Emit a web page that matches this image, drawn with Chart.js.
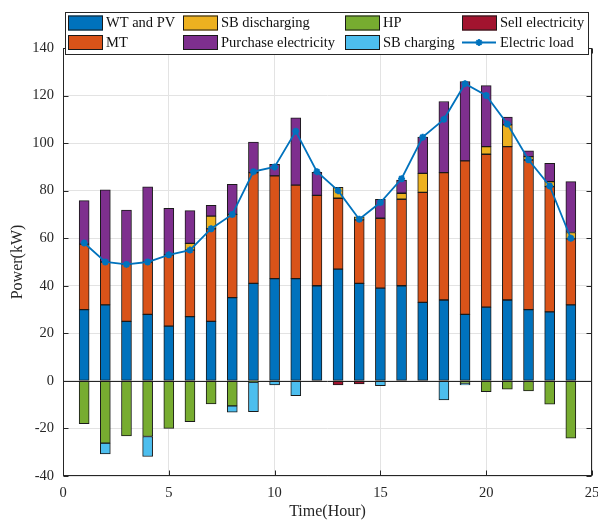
<!DOCTYPE html>
<html>
<head>
<meta charset="utf-8">
<script src="https://cdn.jsdelivr.net/npm/chart.js@4.4.0/dist/chart.umd.min.js"></script>
<style>
  html, body { margin: 0; padding: 0; background: #fff; }
  #wrap { position: relative; width: 598px; height: 525px; }
</style>
</head>
<body>
<div id="wrap"><canvas id="powerChart"></canvas></div>
<script>
// hours 1..24
const hours = [1, 2, 3, 4, 5, 6, 7, 8, 9, 10, 11, 12, 13, 14, 15, 16, 17, 18, 19, 20, 21, 22, 23, 24];

// supply side (positive)
const wtPv = [30, 32, 25, 28, 23, 27, 25, 35, 41, 43, 43, 40, 47, 41, 39, 40, 33, 34, 28, 31, 34, 30, 29, 32];
const mt = [27.5, 18, 24, 22, 30, 28, 39, 35, 46.6, 43.2, 39.3, 38, 29.8, 26.7, 29.4, 36.4, 46.3, 53.6, 64.5, 64.3, 64.5, 62.9, 52.7, 27.7];
const sbDischarging = [null, null, null, null, null, 2.8, 5.3, null, null, null, null, null, 4.6, 1.3, null, 2.5, 8, null, null, 3.2, 9.2, 1.4, 2.1, 2.7];
const purchase = [18.3, 30.3, 22.8, 31.6, 19.6, 13.8, 4.5, 12.7, 12.8, 4.9, 28.3, 9.7, null, null, 8, 5.6, 15.2, 29.9, 33.4, 25.7, 3.2, 2.5, 7.7, 21.4];

// consumption side (negative)
const hp = [-18, -26.2, -23.1, -23.4, -20, -17.1, -9.7, -10.5, -0.5, null, null, null, null, null, null, null, null, null, -1, -4.5, -3.5, -4.2, -9.8, -24.1];
const sbCharging = [null, -4.5, null, -8.4, null, null, null, -2.7, -12.4, -1.7, -6.2, null, null, null, -2, null, null, -8, -0.7, null, null, null, null, null];
const sellElec = [null, null, null, null, null, null, null, null, null, null, null, null, -1.7, -1.3, null, null, null, null, null, null, null, null, null, null];

const electricLoad = [58, 50, 49, 50, 53, 55, 64, 70, 88, 90, 105, 88, 80, 68, 75, 85, 102.5, 110, 125, 120, 108, 93, 82, 60];

const xTicks = [0, 5, 10, 15, 20, 25];
const yTicks = [-40, -20, 0, 20, 40, 60, 80, 100, 120, 140];

// legend is 2 rows x 4 columns like the original figure
const legendRows = [
  ['WT and PV', 'SB discharging', 'HP', 'Sell electricity'],
  ['MT', 'Purchase electricity', 'SB charging', 'Electric load'],
];

const serif = '"Liberation Serif", "Times New Roman", serif';

function pts(arr) {
  return hours.map((h, i) => ({ x: h, y: arr[i] }));
}

function barSet(label, arr, color) {
  return {
    type: 'bar',
    label: label,
    data: pts(arr),
    backgroundColor: color,
    borderColor: '#1a1a1a',
    borderWidth: 1,
    borderSkipped: false,
    barThickness: 10,
    stack: 'power',
  };
}

const datasets = [
  barSet('WT and PV', wtPv, '#0072BD'),
  barSet('MT', mt, '#D95319'),
  barSet('SB discharging', sbDischarging, '#EDB120'),
  barSet('Purchase electricity', purchase, '#7E2F8E'),
  barSet('HP', hp, '#77AC30'),
  barSet('SB charging', sbCharging, '#4DBEEE'),
  barSet('Sell electricity', sellElec, '#A2142F'),
  {
    type: 'line',
    label: 'Electric load',
    data: pts(electricLoad),
    borderColor: '#0072BD',
    backgroundColor: '#0072BD',
    borderWidth: 1.8,
    tension: 0,
    pointStyle: 'star',
    pointRadius: 3.5,
    pointBorderWidth: 2,
    pointBorderColor: '#0072BD',
    stack: 'load',
    order: -1,
  },
];

const frame = {
  id: 'frame',
  beforeDatasetsDraw(chart) {
    const { ctx, chartArea: a, scales: { y } } = chart;
    const y0 = Math.round(y.getPixelForValue(0)) + 0.5;
    ctx.save();
    ctx.strokeStyle = '#262626';
    ctx.lineWidth = 1;
    ctx.beginPath();
    ctx.moveTo(a.left, y0);
    ctx.lineTo(a.right, y0);
    ctx.stroke();
    ctx.restore();
  },
  afterDraw(chart) {
    const { ctx, chartArea: a, scales: { x, y } } = chart;
    ctx.save();
    ctx.strokeStyle = '#262626';
    ctx.lineWidth = 1;
    const L = Math.round(a.left) + 0.5, R = Math.round(a.right) - 0.5;
    const T = Math.round(a.top) + 0.5, B = Math.round(a.bottom) - 0.5;
    ctx.strokeRect(L, T, R - L, B - T);
    ctx.beginPath();
    yTicks.forEach(v => {
      const p = Math.round(y.getPixelForValue(v)) + 0.5;
      ctx.moveTo(L, p); ctx.lineTo(L + 5, p);
      ctx.moveTo(R, p); ctx.lineTo(R - 5, p);
    });
    xTicks.forEach(v => {
      const p = Math.round(x.getPixelForValue(v)) + 0.5;
      ctx.moveTo(p, B); ctx.lineTo(p, B - 5);
      ctx.moveTo(p, T); ctx.lineTo(p, T + 5);
    });
    ctx.stroke();

    // legend box
    const box = { l: 65.5, t: 12.5, r: 588.5, b: 54.5 };
    ctx.fillStyle = '#fff';
    ctx.fillRect(box.l, box.t, box.r - box.l, box.b - box.t);
    ctx.strokeStyle = '#262626';
    ctx.strokeRect(box.l, box.t, box.r - box.l, box.b - box.t);

    const colX = [68, 183, 345, 462];
    const rowY = [23, 42.5];
    ctx.font = '14.5px ' + serif;
    ctx.textBaseline = 'middle';
    ctx.textAlign = 'left';
    legendRows.forEach((row, ri) => {
      row.forEach((label, ci) => {
        const ds = chart.data.datasets.find(d => d.label === label);
        const sx = colX[ci], cy = rowY[ri];
        if (ds.type === 'line') {
          ctx.strokeStyle = ds.borderColor;
          ctx.lineWidth = 1.8;
          ctx.beginPath();
          ctx.moveTo(sx, cy); ctx.lineTo(sx + 34, cy);
          ctx.stroke();
          Chart.helpers.drawPoint(ctx, { pointStyle: 'star', radius: 3.5, borderWidth: 2 }, sx + 17, cy);
        } else {
          ctx.fillStyle = ds.backgroundColor;
          ctx.fillRect(sx, cy - 7.5, 35, 15);
          ctx.strokeStyle = '#1a1a1a';
          ctx.lineWidth = 1;
          ctx.strokeRect(sx + 0.5, cy - 7, 34, 14);
        }
        ctx.fillStyle = '#111';
        ctx.fillText(label, sx + 38, cy + 0.5);
      });
    });
    ctx.restore();
  },
};

const ctx = document.getElementById('powerChart').getContext('2d');
const powerChart = new Chart(ctx, {
  data: { datasets: datasets },
  plugins: [frame],
  options: {
    responsive: true,
    maintainAspectRatio: false,
    animation: false,
    layout: { padding: { top: 48, right: 6, left: 0, bottom: 0 } },
    plugins: {
      legend: { display: false },
      tooltip: { enabled: false },
    },
    scales: {
      x: {
        type: 'linear',
        min: 0,
        max: 25,
        offset: false,
        afterBuildTicks: s => { s.ticks = xTicks.map(v => ({ value: v })); },
        afterFit: s => { s.height = 49; s.paddingLeft = 0; s.paddingRight = 0; },
        grid: { color: '#e3e3e3', drawTicks: false, offset: false },
        border: { display: false },
        ticks: { color: '#262626', padding: 8, maxRotation: 0, font: { family: serif, size: 14.5 } },
        title: {
          display: true,
          text: 'Time(Hour)',
          color: '#262626',
          font: { family: serif, size: 16 },
          padding: { top: 2, bottom: 4 },
        },
      },
      y: {
        stacked: true,
        min: -40,
        max: 140,
        afterBuildTicks: s => { s.ticks = yTicks.map(v => ({ value: v })); },
        afterFit: s => { s.width = 63; },
        grid: { color: '#e3e3e3', drawTicks: false },
        border: { display: false },
        ticks: { color: '#262626', padding: 9, font: { family: serif, size: 14.5 } },
        title: {
          display: true,
          text: 'Power(kW)',
          color: '#262626',
          font: { family: serif, size: 16 },
          padding: { top: 8, bottom: 0 },
        },
      },
    },
  },
});
</script>
</body>
</html>
